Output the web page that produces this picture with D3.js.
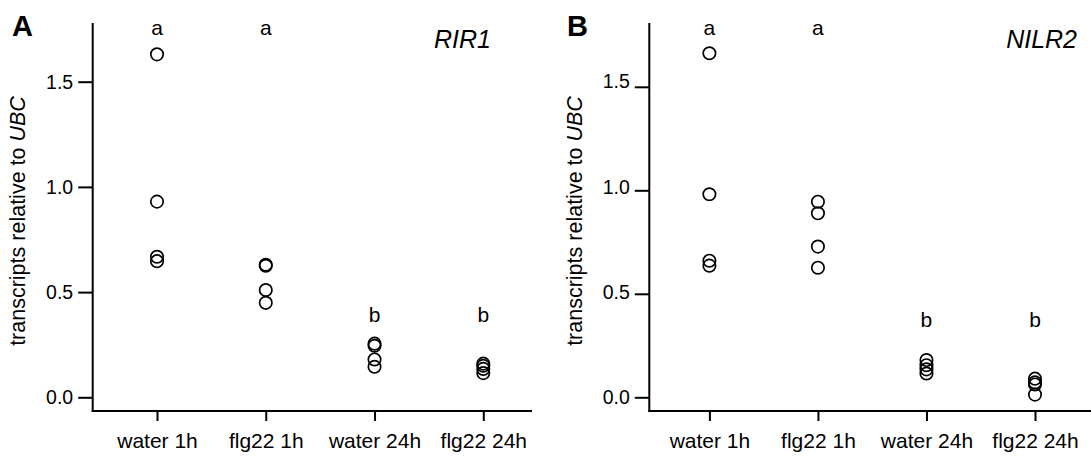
<!DOCTYPE html>
<html>
<head>
<meta charset="utf-8">
<script src="https://cdn.jsdelivr.net/npm/d3@7"></script>
<style>
  body { margin: 0; background: #fff; }
  text { font-family: "Liberation Sans", Arial, sans-serif; fill: #000; }
  .axis line { stroke: #000; stroke-width: 2; }
  .axis path { display: none; }
  .dot { fill: none; stroke: #000; stroke-width: 1.7; }
</style>
</head>
<body>
<div id="chart"></div>
<script>
// categories and tick values
var groups = ["water 1h", "flg22 1h", "water 24h", "flg22 24h"];
var yTicks = [0, 0.5, 1.0, 1.5];

// RIR1 transcripts relative to UBC, one array per group
var rir1Water1h = [1.63, 0.93, 0.668, 0.647];
var rir1Flg221h = [0.63, 0.625, 0.51, 0.449];
var rir1Water24h = [0.255, 0.245, 0.18, 0.145];
var rir1Flg2224h = [0.16, 0.15, 0.135, 0.115];

// NILR2 transcripts relative to UBC
var nilr2Water1h = [1.662, 0.981, 0.66, 0.636];
var nilr2Flg221h = [0.945, 0.889, 0.728, 0.626];
var nilr2Water24h = [0.18, 0.155, 0.135, 0.115];
var nilr2Flg2224h = [0.09, 0.072, 0.062, 0.013];

// significance letters and the level they sit at
var rir1Letters = ["a", "a", "b", "b"];
var rir1LetterLevel = [1.72, 1.72, 0.36, 0.36];
var nilr2Letters = ["a", "a", "b", "b"];
var nilr2LetterLevel = [1.75, 1.75, 0.341, 0.341];

var W = 1091, H = 458;

var svg = d3.select("#chart").append("svg")
  .attr("width", W)
  .attr("height", H);

function drawPanel(p) {
  var g = svg.append("g");

  var x = d3.scalePoint()
    .domain(groups)
    .range(p.xRange);

  var y = d3.scaleLinear()
    .domain([0, 1.5])
    .range(p.yRange);

  // tick labels were placed a little differently from the ticks in panel B
  var yLab = d3.scaleLinear()
    .domain([0, 1.5])
    .range(p.labelRange);

  // frame
  g.append("line")
    .attr("x1", p.left).attr("x2", p.left)
    .attr("y1", p.top).attr("y2", p.bottom + 1)
    .attr("stroke", "#000").attr("stroke-width", 2);

  g.append("line")
    .attr("x1", p.left - 1).attr("x2", p.right)
    .attr("y1", p.bottom).attr("y2", p.bottom)
    .attr("stroke", "#000").attr("stroke-width", 2);

  // y axis ticks
  g.append("g")
    .attr("class", "axis")
    .attr("transform", "translate(" + p.left + ",0)")
    .call(d3.axisLeft(y).tickValues(yTicks).tickSize(14.5).tickFormat(""));

  g.selectAll(".ylab")
    .data(yTicks)
    .enter().append("text")
    .attr("class", "ylab")
    .attr("x", p.left - 19.5)
    .attr("y", function(d){ return yLab(d); })
    .attr("dy", "0.35em")
    .attr("text-anchor", "end")
    .style("font-size", "19.5px")
    .text(function(d){ return d.toFixed(1); });

  // x axis ticks
  var xa = g.append("g")
    .attr("class", "axis")
    .attr("transform", "translate(0," + p.bottom + ")")
    .call(d3.axisBottom(x).tickSize(10).tickPadding(12.5));
  xa.selectAll("text")
    .style("font-size", "21px")
    .attr("fill", "#000");

  // points
  var pts = [];
  p.values.forEach(function(arr, i){
    arr.forEach(function(v){ pts.push({ group: groups[i], value: v }); });
  });

  g.selectAll(".dot")
    .data(pts)
    .enter().append("circle")
    .attr("class", "dot")
    .attr("r", 6.2)
    .attr("cx", function(d){ return x(d.group); })
    .attr("cy", function(d){ return y(d.value); });

  // letters
  g.selectAll(".letter")
    .data(p.letters)
    .enter().append("text")
    .attr("class", "letter")
    .attr("text-anchor", "middle")
    .attr("x", function(d, i){ return x(groups[i]); })
    .attr("y", function(d, i){ return y(p.letterLevel[i]); })
    .style("font-size", "21px")
    .text(function(d){ return d; });

  // gene name
  g.append("text")
    .attr("x", p.geneX)
    .attr("y", 48)
    .attr("text-anchor", "end")
    .style("font-size", "25px")
    .style("font-style", "italic")
    .text(p.gene);

  // panel letter
  g.append("text")
    .attr("x", p.tagX)
    .attr("y", 35.5)
    .style("font-size", "29px")
    .style("font-weight", "bold")
    .text(p.tag);

  // y axis label
  var yl = g.append("text")
    .attr("text-anchor", "middle")
    .attr("transform", "translate(" + p.ylabX + ",221)rotate(-90)")
    .style("font-size", "21.5px");
  yl.append("tspan").text("transcripts relative to ");
  yl.append("tspan").style("font-style", "italic").text("UBC");
}

drawPanel({
  tag: "A", tagX: 12, gene: "RIR1", geneX: 491,
  left: 92.7, right: 532, top: 23, bottom: 411,
  xRange: [157, 483.3], yRange: [397.3, 81.7], labelRange: [397.3, 81.7],
  ylabX: 25,
  values: [rir1Water1h, rir1Flg221h, rir1Water24h, rir1Flg2224h],
  letters: rir1Letters, letterLevel: rir1LetterLevel
});

drawPanel({
  tag: "B", tagX: 567, gene: "NILR2", geneX: 1077,
  left: 649.3, right: 1091, top: 23, bottom: 411,
  xRange: [709.4, 1035], yRange: [397.3, 86.8], labelRange: [397.6, 81.4],
  ylabX: 581.5,
  values: [nilr2Water1h, nilr2Flg221h, nilr2Water24h, nilr2Flg2224h],
  letters: nilr2Letters, letterLevel: nilr2LetterLevel
});
</script>
</body>
</html>
